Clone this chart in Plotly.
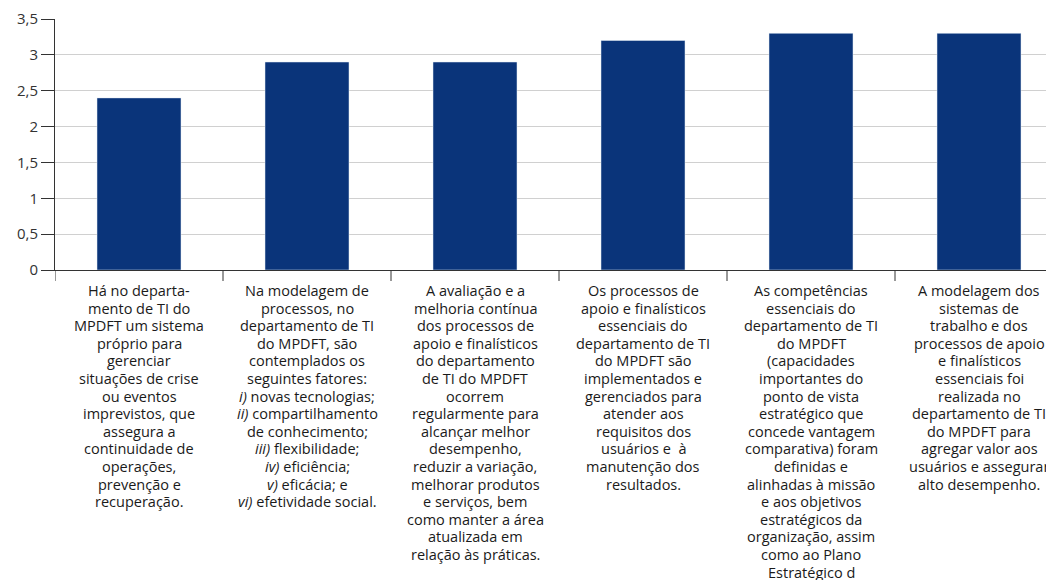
import plotly.graph_objects as go

category_lines = [
    ["Há no departa-", "mento de TI do", "MPDFT um sistema", "próprio para", "gerenciar",
     "situações de crise", "ou eventos", "imprevistos, que", "assegura a", "continuidade de",
     "operações,", "prevenção e", "recuperação."],
    ["Na modelagem de", "processos, no", "departamento de TI", "do MPDFT, são",
     "contemplados os", "seguintes fatores:", "<i>i)</i> novas tecnologias;",
     "<i>ii)</i> compartilhamento", "de conhecimento;", "<i>iii)</i> flexibilidade;",
     "<i>iv)</i> eficiência;", "<i>v)</i> eficácia; e", "<i>vi)</i> efetividade social."],
    ["A avaliação e a", "melhoria contínua", "dos processos de", "apoio e finalísticos",
     "do departamento", "de TI do MPDFT", "ocorrem", "regularmente para", "alcançar melhor",
     "desempenho,", "reduzir a variação,", "melhorar produtos", "e serviços, bem",
     "como manter a área", "atualizada em", "relação às práticas."],
    ["Os processos de", "apoio e finalísticos", "essenciais do", "departamento de TI",
     "do MPDFT são", "implementados e", "gerenciados para", "atender aos", "requisitos dos",
     "usuários e  à", "manutenção dos", "resultados."],
    ["As competências", "essenciais do", "departamento de TI", "do MPDFT", "(capacidades",
     "importantes do", "ponto de vista", "estratégico que", "concede vantagem",
     "comparativa) foram", "definidas e", "alinhadas à missão", "e aos objetivos",
     "estratégicos da", "organização, assim", "como ao Plano", "Estratégico d"],
    ["A modelagem dos", "sistemas de", "trabalho e dos", "processos de apoio",
     "e finalísticos", "essenciais foi", "realizada no", "departamento de TI",
     "do MPDFT para", "agregar valor aos", "usuários e assegurar", "alto desempenho."],
]
values = [2.4, 2.9, 2.9, 3.2, 3.3, 3.3]
y_tickvals = [0, 0.5, 1, 1.5, 2, 2.5, 3, 3.5]
y_ticktext = ["0", "0,5", "1", "1,5", "2", "2,5", "3", "3,5"]

x_idx = list(range(len(category_lines)))

fig = go.Figure(
    go.Bar(x=x_idx, y=values, marker_color="#0a347a", width=0.5,
           hovertext=["<br>".join(c) for c in category_lines])
)

# page body has 8px default margin -> compensate
W, H = 1054, 580
ml, mt = 47, 11
plot_bottom = 262
mb = H - plot_bottom
cat_px = 168
plot_w = W - ml
span = plot_w / cat_px
plot_h = plot_bottom - mt

fig.update_layout(
    width=W, height=H,
    margin=dict(l=ml, r=0, t=mt, b=mb, pad=0),
    plot_bgcolor="white", paper_bgcolor="white",
    font=dict(family="Open Sans", color="#1a1a1a", size=13),
    showlegend=False,
)
fig.update_xaxes(
    range=[-0.5, -0.5 + span],
    tickmode="array", tickvals=x_idx, ticktext=[""] * len(x_idx),
    ticks="", showline=True, linecolor="#333333", linewidth=1,
    showgrid=False, zeroline=False, automargin=False,
)
fig.update_yaxes(
    range=[0, 3.5], tickmode="array", tickvals=y_tickvals, ticktext=y_ticktext,
    ticks="outside", ticklen=13, tickcolor="#333333", tickwidth=1,
    showline=True, linecolor="#333333", linewidth=1,
    showgrid=True, gridcolor="#d0d0d0", gridwidth=1,
    zeroline=False, automargin=False,
    tickfont=dict(size=15, family="Open Sans", color="#333333"),
)

# boundary tick marks between categories on the x axis
shapes = []
for b in range(len(category_lines) + 1):
    xb = b - 0.5
    shapes.append(dict(type="line", xref="x", yref="paper", x0=xb, x1=xb,
                       y0=0, y1=-11 / plot_h, line=dict(color="#333333", width=1)))

annotations = []
line_h = 17.6
first_center = 20.5
for i, lines in enumerate(category_lines):
    for k, txt in enumerate(lines):
        annotations.append(dict(
            x=i, xref="x", y=0, yref="paper", text=txt, showarrow=False,
            xanchor="center", yanchor="middle",
            yshift=-(first_center + k * line_h),
            font=dict(family="Open Sans", size=14.5, color="#1a1a1a"),
        ))
fig.update_layout(shapes=shapes, annotations=annotations)

fig.write_html("out.html")
